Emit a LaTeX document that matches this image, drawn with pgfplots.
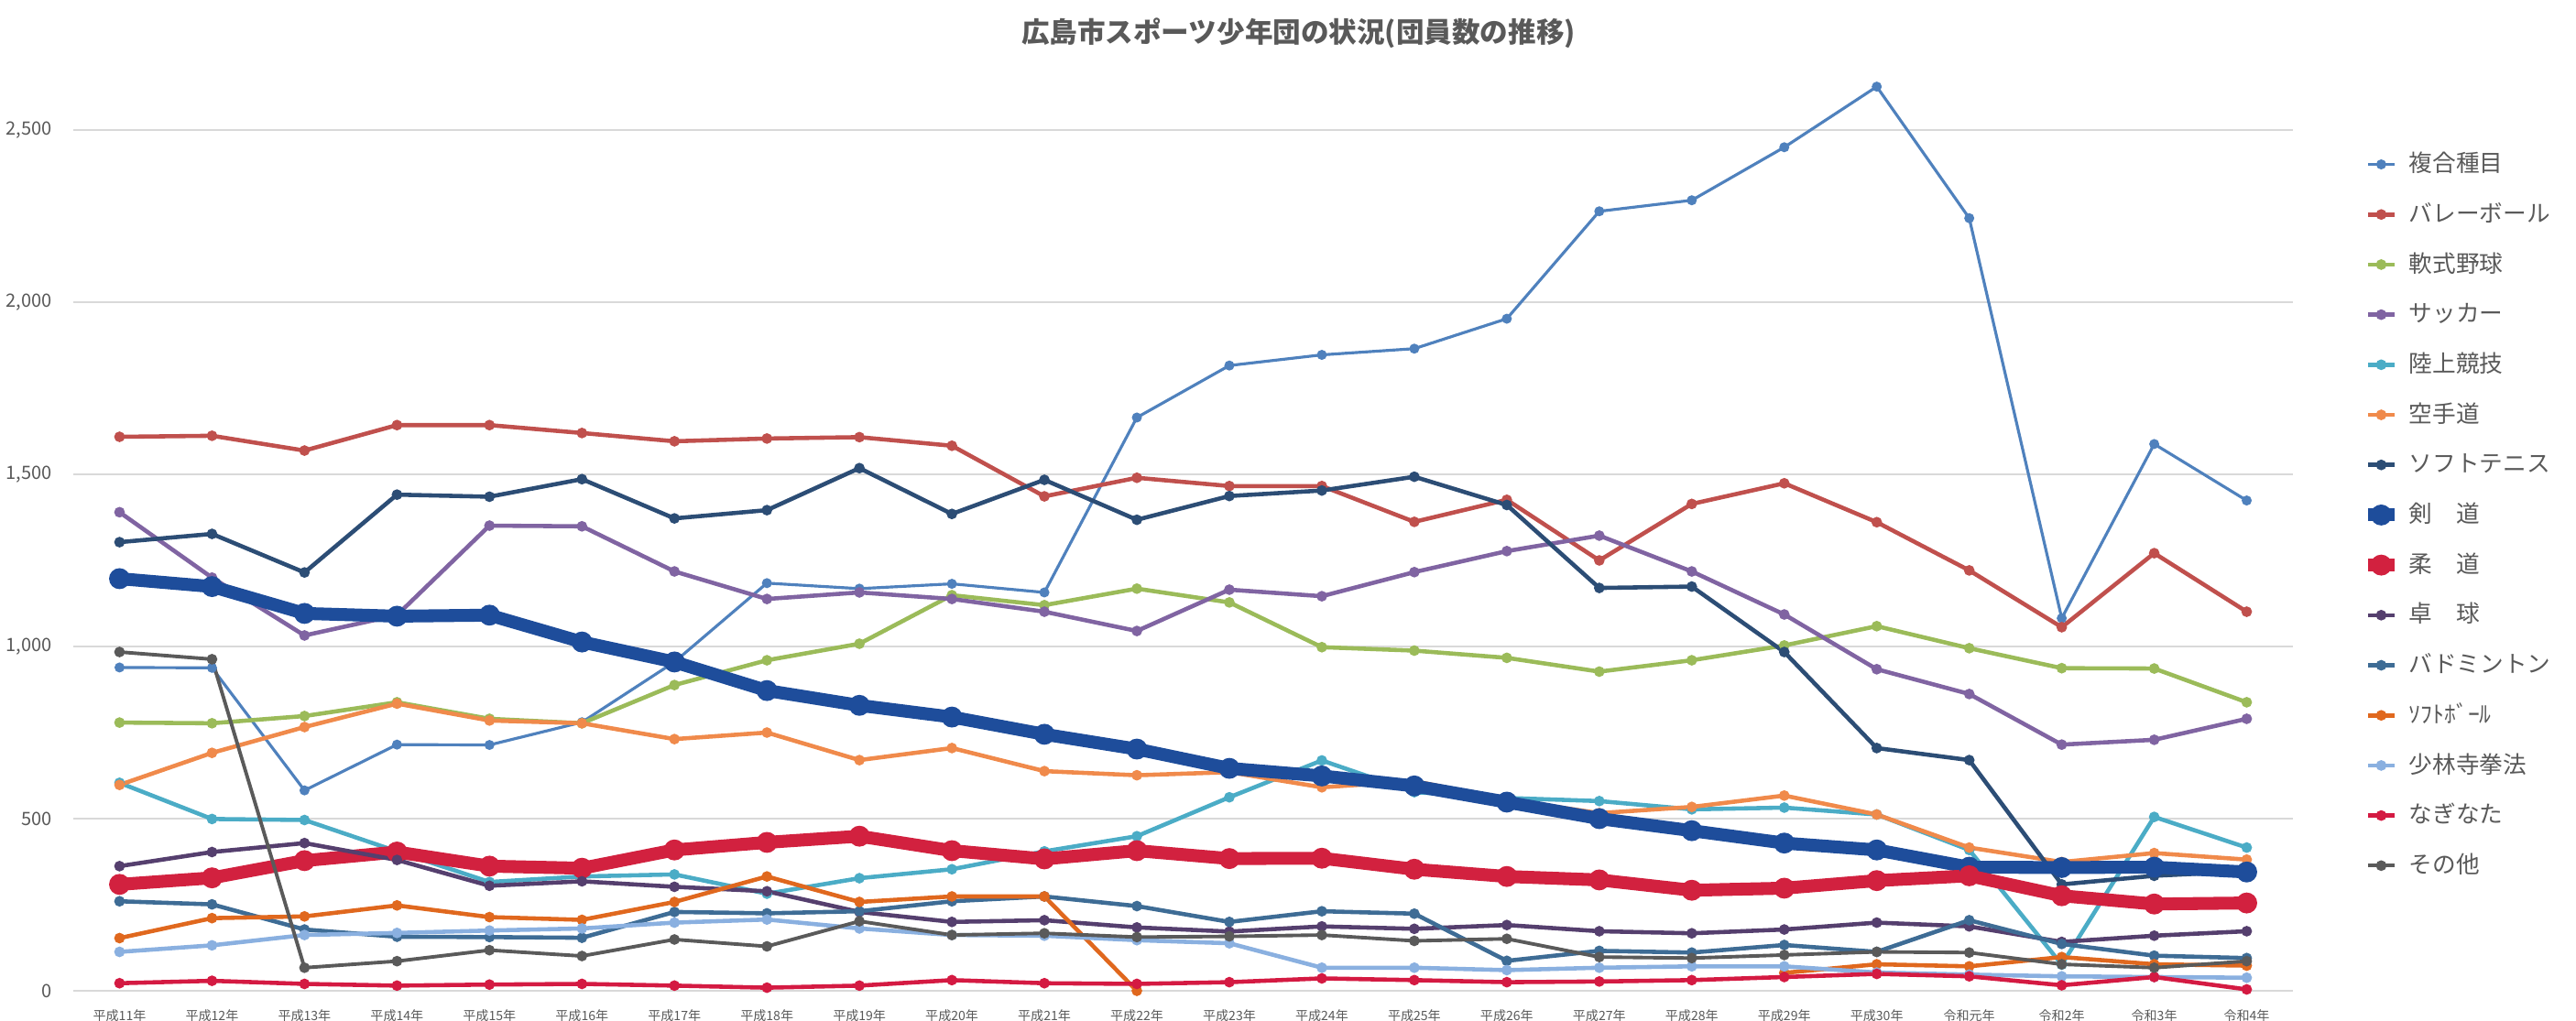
\documentclass[border=0pt]{standalone}
\usepackage{fontspec}
\setmainfont{Noto Sans CJK JP}
\usepackage{pgfplots}
\usepackage{pgfplotstable}
\pgfplotsset{compat=1.18}
\definecolor{cfuk}{HTML}{4F81BD}
\definecolor{cvol}{HTML}{C0504D}
\definecolor{cbb}{HTML}{9BBB59}
\definecolor{csoc}{HTML}{8064A2}
\definecolor{cath}{HTML}{4BACC6}
\definecolor{ckar}{HTML}{F08A4B}
\definecolor{cst}{HTML}{2C4D75}
\definecolor{cken}{HTML}{1E4D9B}
\definecolor{cju}{HTML}{D2213F}
\definecolor{ctt}{HTML}{553F6E}
\definecolor{cbad}{HTML}{3E6C95}
\definecolor{csb}{HTML}{E0681E}
\definecolor{csho}{HTML}{8AB0E0}
\definecolor{cnag}{HTML}{D41A42}
\definecolor{coth}{HTML}{5A5A5A}
\definecolor{labelgray}{HTML}{595959}
\definecolor{gridgray}{HTML}{D9D9D9}

\pgfplotstableread{
x fuk vol bb soc ath kar st ken ju tt bad sb sho nag oth
0 939 1609 779 1390 604 598 1303 1197 309 362 260 153 113 22 984
1 938 1612 777 1200 499 691 1327 1174 328 403 251 211 132 29 963
2 582 1569 798 1032 496 766 1215 1096 378 429 178 216 162 20 67
3 715 1643 838 1091 405 834 1441 1088 403 380 157 248 168 15 86
4 714 1643 790 1351 316 785 1435 1091 362 305 156 214 175 18 118
5 780 1620 777 1349 332 777 1486 1013 356 318 154 206 181 20 101
6 955 1596 888 1218 338 731 1372 955 409 302 229 258 198 15 149
7 1184 1604 960 1138 282 750 1396 872 431 289 225 332 207 9 129
8 1168 1608 1008 1157 327 670 1518 829 449 229 231 258 181 15 202
9 1182 1583 1149 1138 353 705 1385 795 407 200 260 274 162 31 162
10 1157 1436 1120 1101 405 638 1484 745 383 205 274 274 160 22 167
11 1665 1490 1168 1045 449 626 1368 702 407 184 246 0 147 20 156
12 1816 1466 1128 1165 562 635 1437 646 384 172 200 nan 138 25 158
13 1847 1466 998 1146 669 591 1453 624 385 187 231 nan 67 36 162
14 1865 1362 988 1216 577 609 1493 595 353 180 224 nan 67 31 145
15 1952 1426 967 1277 560 555 1411 548 332 191 87 nan 60 25 151
16 2264 1250 927 1322 551 516 1170 500 322 173 116 nan 67 27 98
17 2296 1414 960 1218 527 534 1174 465 292 167 111 nan 71 31 95
18 2450 1474 1003 1093 532 567 984 429 298 178 133 52 71 40 104
19 2626 1361 1059 934 512 512 705 409 320 198 113 77 53 49 113
20 2244 1221 995 862 409 416 670 359 334 187 205 71 47 42 111
21 1082 1056 937 715 76 374 309 358 276 142 136 98 42 16 77
22 1588 1271 936 729 505 400 334 359 252 160 102 77 40 40 67
23 1424 1101 838 790 416 381 347 345 255 173 95 73 38 4 86
}\data

\begin{document}
\begin{tikzpicture}
\path[use as bounding box] (0,0) rectangle (28.12cm,11.14cm);
\begin{axis}[
  at={(0.80cm,0.32cm)}, anchor=south west,
  scale only axis, width=24.23cm, height=10.152cm,
  xmin=-0.5, xmax=23.5, ymin=0, ymax=2700,
  xtick={0,...,23},
  xticklabels={平成11年,平成12年,平成13年,平成14年,平成15年,平成16年,平成17年,平成18年,平成19年,平成20年,平成21年,平成22年,平成23年,平成24年,平成25年,平成26年,平成27年,平成28年,平成29年,平成30年,令和元年,令和2年,令和3年,令和4年},
  ytick={0,500,1000,1500,2000,2500},
  ymajorgrids, grid style={draw=gridgray, line width=0.6pt},
  axis line style={draw=none},
  major tick length=0pt,
  tick label style={text=labelgray},
  xticklabel style={font=\fontsize{4}{5}\selectfont, yshift=-0.08cm},
  yticklabel style={font=\fontsize{5.7}{6.5}\selectfont, xshift=-0.11cm},
  /pgf/number format/assume math mode=true,
  /pgf/number format/1000 sep={,},
  scaled y ticks=false,
  unbounded coords=jump,
  clip=false,
  every axis title shift=0pt,
  title={広島市スポーツ少年団の状況(団員数の推移)},
  title style={at={(0.552,1.0305)}, anchor=center, font=\fontsize{8.7}{10}\selectfont\bfseries, text=labelgray},
  legend cell align=left,
  legend style={at={(1.0306,0.9166)}, anchor=north west, draw=none, fill=none, inner sep=0pt, row sep=0pt,
    font=\fontsize{7.3}{8}\selectfont, text=labelgray,
    nodes={inner xsep=0.09cm, inner ysep=0pt, minimum height=0.547cm}},
  legend image code/.code={\draw[mark repeat=2,mark phase=2,#1] plot coordinates {(0cm,0cm) (0.145cm,0cm) (0.29cm,0cm)};},
  every axis plot/.append style={mark=*, mark options={solid, line width=0.5pt}},
]
\addplot[color=cfuk, line width=0.9pt, mark size=1.3pt] table[x=x,y=fuk]{\data};
\addlegendentry{複合種目}
\addplot[color=cvol, line width=1.3pt, mark size=1.4pt] table[x=x,y=vol]{\data};
\addlegendentry{バレーボール}
\addplot[color=cbb, line width=1.3pt, mark size=1.4pt] table[x=x,y=bb]{\data};
\addlegendentry{軟式野球}
\addplot[color=csoc, line width=1.3pt, mark size=1.4pt] table[x=x,y=soc]{\data};
\addlegendentry{サッカー}
\addplot[color=cath, line width=1.3pt, mark size=1.4pt] table[x=x,y=ath]{\data};
\addlegendentry{陸上競技}
\addplot[color=ckar, line width=1.3pt, mark size=1.4pt] table[x=x,y=kar]{\data};
\addlegendentry{空手道}
\addplot[color=cst, line width=1.3pt, mark size=1.4pt] table[x=x,y=st]{\data};
\addlegendentry{ソフトテニス}
\addplot[color=cken, line width=4pt, mark size=3pt] table[x=x,y=ken]{\data};
\addlegendentry{剣　道}
\addplot[color=cju, line width=4pt, mark size=3pt] table[x=x,y=ju]{\data};
\addlegendentry{柔　道}
\addplot[color=ctt, line width=1.3pt, mark size=1.4pt] table[x=x,y=tt]{\data};
\addlegendentry{卓　球}
\addplot[color=cbad, line width=1.3pt, mark size=1.4pt] table[x=x,y=bad]{\data};
\addlegendentry{バドミントン}
\addplot[color=csb, line width=1.3pt, mark size=1.4pt] table[x=x,y=sb]{\data};
\addlegendentry{ｿﾌﾄﾎﾞｰﾙ}
\addplot[color=csho, line width=1.3pt, mark size=1.4pt] table[x=x,y=sho]{\data};
\addlegendentry{少林寺拳法}
\addplot[color=cnag, line width=1.3pt, mark size=1.4pt] table[x=x,y=nag]{\data};
\addlegendentry{なぎなた}
\addplot[color=coth, line width=1.1pt, mark size=1.4pt] table[x=x,y=oth]{\data};
\addlegendentry{その他}
\end{axis}
\end{tikzpicture}
\end{document}
